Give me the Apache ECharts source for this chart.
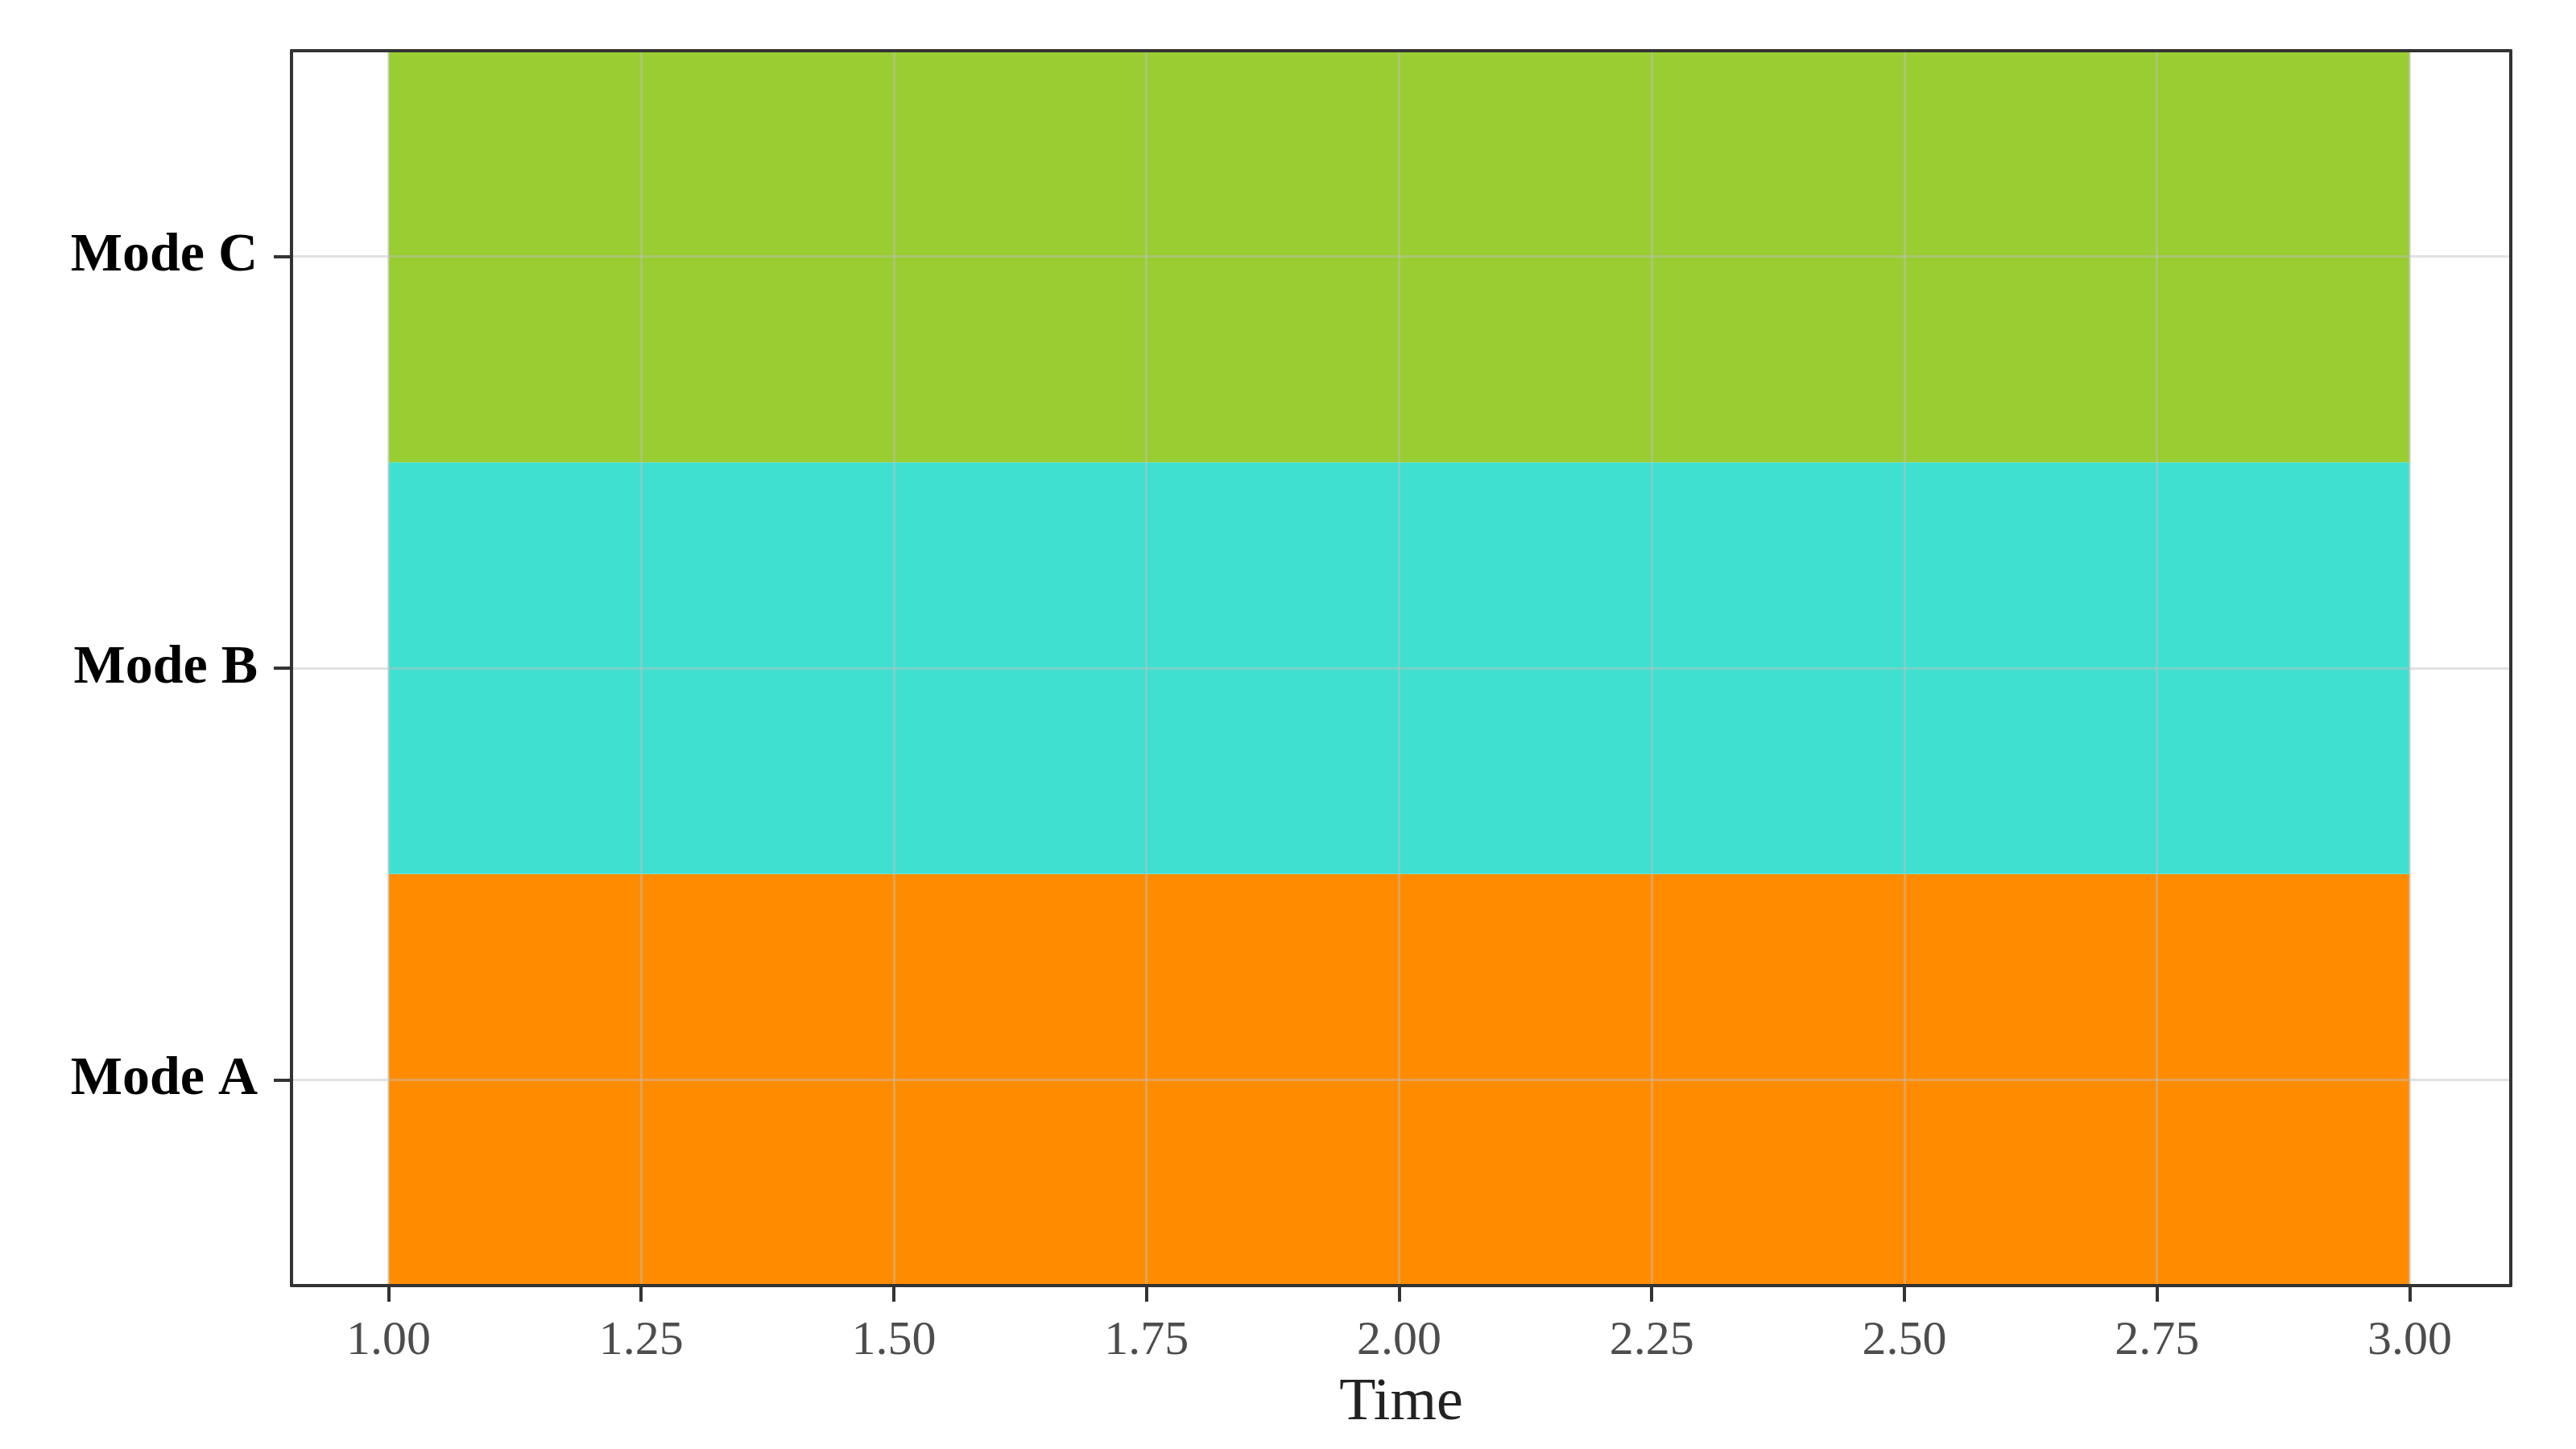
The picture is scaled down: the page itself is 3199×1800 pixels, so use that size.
<!DOCTYPE html>
<html>
<head>
<meta charset="utf-8">
<script src="https://cdn.jsdelivr.net/npm/echarts@6/dist/echarts.min.js"></script>
<style>
html,body{margin:0;padding:0;background:#fff;}
#chart{width:3199px;height:1800px;}
</style>
</head>
<body>
<div id="chart"></div>
<script>
// Data
const modes = ['Mode A', 'Mode B', 'Mode C'];
const startTimes = [1, 1, 1];
const endTimes = [3, 3, 3];
const modeColors = ['#FF8C00', '#40E0D0', '#9ACD32'];
const xTicks = [1.00, 1.25, 1.50, 1.75, 2.00, 2.25, 2.50, 2.75, 3.00];
const xMin = 0.904, xMax = 3.1;
const xTitle = 'Time';

const tileData = modes.map((m, i) => ({
  value: [startTimes[i], endTimes[i], i],
  itemStyle: { color: modeColors[i] }
}));

const gridColor = 'rgba(190,190,190,0.45)';
const borderColor = '#333333';

const chart = echarts.init(document.getElementById('chart'), null, { renderer: 'canvas' });
chart.setOption({
  animation: false,
  backgroundColor: '#ffffff',
  grid: { left: 362, right: 81, top: 63, bottom: 203, containLabel: false },
  xAxis: [{
    type: 'value',
    position: 'bottom',
    min: xMin, max: xMax,
    z: 10,
    name: xTitle,
    nameLocation: 'middle',
    nameGap: 110,
    nameTextStyle: { fontFamily: 'Liberation Serif', fontSize: 74, color: '#222' },
    axisLine: { show: true, onZero: false, lineStyle: { color: borderColor, width: 4 } },
    axisTick: { show: true, customValues: xTicks, length: 20, lineStyle: { color: borderColor, width: 4 } },
    axisLabel: {
      show: true, customValues: xTicks, margin: 39,
      formatter: v => Number(v).toFixed(2),
      fontFamily: 'Liberation Serif', fontSize: 60, color: '#4d4d4d'
    },
    splitLine: { show: false }
  }, {
    type: 'value',
    position: 'top',
    min: xMin, max: xMax,
    z: 10,
    axisLine: { show: true, onZero: false, lineStyle: { color: borderColor, width: 4 } },
    axisTick: { show: false }, axisLabel: { show: false }, splitLine: { show: false }
  }],
  yAxis: [{
    type: 'category',
    position: 'left',
    data: modes,
    boundaryGap: true,
    z: 10,
    axisLine: { show: true, onZero: false, lineStyle: { color: borderColor, width: 4 } },
    axisTick: { show: true, alignWithLabel: true, length: 22, lineStyle: { color: borderColor, width: 4 } },
    axisLabel: { margin: 42, padding: [8, 0, 0, 0], fontFamily: 'Liberation Serif', fontWeight: 'bold', fontSize: 68, color: '#000' },
    splitLine: { show: false }
  }, {
    type: 'category',
    position: 'right',
    data: modes,
    boundaryGap: true,
    z: 10,
    axisLine: { show: true, onZero: false, lineStyle: { color: borderColor, width: 4 } },
    axisTick: { show: false }, axisLabel: { show: false }, splitLine: { show: false }
  }],
  series: [{
    type: 'custom',
    xAxisIndex: 0, yAxisIndex: 0,
    z: 2,
    encode: { x: [0, 1], y: 2 },
    data: tileData,
    renderItem: function (params, api) {
      const s = api.coord([api.value(0), api.value(2)]);
      const e = api.coord([api.value(1), api.value(2)]);
      const h = api.size([0, 1])[1];
      return {
        type: 'rect',
        shape: { x: s[0], y: s[1] - h / 2, width: e[0] - s[0], height: h },
        style: { fill: api.visual('color') }
      };
    }
  }, {
    type: 'scatter',
    xAxisIndex: 0, yAxisIndex: 0,
    z: 5,
    data: [],
    silent: true,
    markLine: {
      silent: true,
      symbol: 'none',
      label: { show: false },
      lineStyle: { color: gridColor, width: 3, type: 'solid' },
      data: xTicks.map(v => ({ xAxis: v })).concat(modes.map(m => ({ yAxis: m })))
    }
  }]
});
</script>
</body>
</html>
